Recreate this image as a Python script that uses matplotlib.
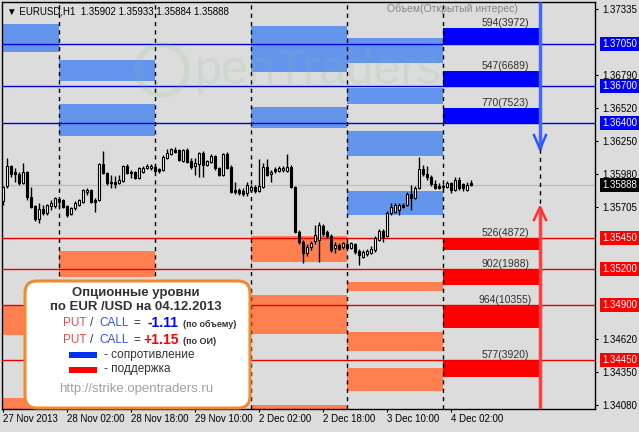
import numpy as np
import matplotlib
matplotlib.use("Agg")
import matplotlib.pyplot as plt
from matplotlib.patches import FancyBboxPatch, Rectangle, Circle

plt.rcParams['font.family'] = ['Liberation Sans', 'DejaVu Sans']

# EURUSD H1, bars from 27 Nov 2013 10:00 to 4 Dec 2013 07:00
opens = [
    1.35757, 1.35880, 1.36045, 1.35995, 1.35979, 1.35905, 1.35995, 1.35790, 1.35716, 1.35609,
    1.35691, 1.35658, 1.35716, 1.35716, 1.35773, 1.35765, 1.35716, 1.35650, 1.35699, 1.35724,
    1.35749, 1.35831, 1.35847, 1.35765, 1.35765, 1.36061, 1.35987, 1.35913, 1.35913, 1.35905,
    1.35921, 1.36045, 1.35995, 1.35995, 1.35946, 1.35995, 1.36028, 1.36028, 1.36036, 1.36020,
    1.36012, 1.36110, 1.36143, 1.36176, 1.36176, 1.36086, 1.36176, 1.36086, 1.36045, 1.36061,
    1.36151, 1.36053, 1.36077, 1.36127, 1.36028, 1.35971, 1.36143, 1.36036, 1.35847, 1.35847,
    1.35839, 1.35823, 1.35847, 1.35872, 1.35839, 1.35872, 1.36036, 1.35979, 1.36020, 1.36003,
    1.36012, 1.36003, 1.36036, 1.35872, 1.35502, 1.35420, 1.35329, 1.35379, 1.35428, 1.35436,
    1.35551, 1.35502, 1.35469, 1.35370, 1.35395, 1.35379, 1.35403, 1.35370, 1.35403, 1.35346,
    1.35296, 1.35321, 1.35329, 1.35354, 1.35436, 1.35510, 1.35469, 1.35658, 1.35666, 1.35683,
    1.35724, 1.35724, 1.35814, 1.35781, 1.35864, 1.36020, 1.35979, 1.35954, 1.35897, 1.35880,
    1.35872, 1.35872, 1.35905, 1.35847, 1.35929, 1.35897, 1.35847, 1.35902]
highs = [
    1.35880, 1.36110, 1.36053, 1.36028, 1.35995, 1.36069, 1.36003, 1.35872, 1.35724, 1.35740,
    1.35724, 1.35732, 1.35765, 1.35790, 1.35781, 1.35773, 1.35724, 1.35707, 1.35757, 1.35773,
    1.35855, 1.35864, 1.35855, 1.35781, 1.36069, 1.36168, 1.35995, 1.35971, 1.35962, 1.35971,
    1.36053, 1.36061, 1.36012, 1.36003, 1.36036, 1.36045, 1.36061, 1.36061, 1.36053, 1.36028,
    1.36135, 1.36184, 1.36193, 1.36201, 1.36184, 1.36184, 1.36193, 1.36110, 1.36110, 1.36160,
    1.36168, 1.36094, 1.36143, 1.36135, 1.36036, 1.36151, 1.36160, 1.36053, 1.35913, 1.35864,
    1.35864, 1.35913, 1.35888, 1.35888, 1.36102, 1.36069, 1.36102, 1.36012, 1.36036, 1.36045,
    1.36045, 1.36143, 1.36053, 1.35880, 1.35518, 1.35436, 1.35403, 1.35428, 1.35559, 1.35584,
    1.35568, 1.35518, 1.35486, 1.35420, 1.35412, 1.35420, 1.35420, 1.35420, 1.35412, 1.35362,
    1.35354, 1.35362, 1.35387, 1.35469, 1.35527, 1.35527, 1.35675, 1.35740, 1.35740, 1.35740,
    1.35740, 1.35831, 1.35888, 1.35880, 1.36119, 1.36053, 1.36045, 1.35971, 1.35929, 1.35905,
    1.35897, 1.35921, 1.35913, 1.35954, 1.35954, 1.35905, 1.35913, 1.35933]
lows = [
    1.35724, 1.35864, 1.35954, 1.35913, 1.35888, 1.35897, 1.35765, 1.35699, 1.35592, 1.35576,
    1.35642, 1.35642, 1.35683, 1.35699, 1.35699, 1.35699, 1.35625, 1.35642, 1.35683, 1.35716,
    1.35740, 1.35806, 1.35740, 1.35666, 1.35757, 1.35979, 1.35888, 1.35864, 1.35864, 1.35897,
    1.35913, 1.35979, 1.35946, 1.35938, 1.35938, 1.35987, 1.36020, 1.36012, 1.35995, 1.35987,
    1.36003, 1.36102, 1.36135, 1.36151, 1.36086, 1.36077, 1.36069, 1.36020, 1.35971, 1.35954,
    1.35954, 1.36045, 1.36069, 1.36012, 1.35962, 1.35962, 1.36020, 1.35823, 1.35814, 1.35806,
    1.35798, 1.35798, 1.35831, 1.35823, 1.35831, 1.35864, 1.35962, 1.35913, 1.35987, 1.35995,
    1.35995, 1.35995, 1.35864, 1.35494, 1.35403, 1.35247, 1.35305, 1.35354, 1.35403, 1.35255,
    1.35469, 1.35453, 1.35338, 1.35329, 1.35354, 1.35362, 1.35362, 1.35362, 1.35321, 1.35231,
    1.35288, 1.35305, 1.35321, 1.35338, 1.35428, 1.35420, 1.35461, 1.35642, 1.35658, 1.35642,
    1.35699, 1.35716, 1.35683, 1.35773, 1.35855, 1.35962, 1.35929, 1.35880, 1.35855, 1.35855,
    1.35855, 1.35864, 1.35823, 1.35839, 1.35847, 1.35839, 1.35839, 1.35884]
closes = [
    1.35872, 1.36045, 1.35979, 1.35979, 1.35905, 1.35995, 1.35790, 1.35707, 1.35609, 1.35691,
    1.35658, 1.35724, 1.35740, 1.35781, 1.35749, 1.35707, 1.35642, 1.35699, 1.35740, 1.35765,
    1.35847, 1.35847, 1.35749, 1.35749, 1.36061, 1.35987, 1.35905, 1.35905, 1.35897, 1.35929,
    1.36045, 1.35987, 1.35987, 1.35946, 1.36028, 1.36028, 1.36045, 1.36045, 1.36003, 1.36003,
    1.36119, 1.36151, 1.36184, 1.36160, 1.36094, 1.36176, 1.36077, 1.36036, 1.36069, 1.36151,
    1.36053, 1.36086, 1.36127, 1.36028, 1.35971, 1.36143, 1.36028, 1.35831, 1.35831, 1.35823,
    1.35814, 1.35888, 1.35872, 1.35839, 1.35880, 1.36036, 1.35971, 1.35995, 1.36003, 1.36028,
    1.36028, 1.36036, 1.35872, 1.35502, 1.35420, 1.35329, 1.35379, 1.35412, 1.35477, 1.35559,
    1.35486, 1.35469, 1.35354, 1.35395, 1.35362, 1.35412, 1.35370, 1.35412, 1.35338, 1.35313,
    1.35338, 1.35346, 1.35362, 1.35453, 1.35510, 1.35461, 1.35658, 1.35707, 1.35724, 1.35724,
    1.35707, 1.35814, 1.35781, 1.35864, 1.36020, 1.35979, 1.35954, 1.35897, 1.35864, 1.35864,
    1.35880, 1.35905, 1.35847, 1.35929, 1.35864, 1.35864, 1.35888, 1.35888]

tick_bars = [0, 16, 32, 48, 64, 80, 96, 112]
tick_labels = ['27 Nov 2013', '28 Nov 02:00', '28 Nov 18:00', '29 Nov 10:00',
               '2 Dec 02:00', '2 Dec 18:00', '3 Dec 10:00', '4 Dec 02:00']
day_edges = [-1, 14, 38, 62, 86, 110]      # bar index of each 00:00
today_end = 134.25

price_ticks = [1.37335, 1.36790, 1.36520, 1.36250, 1.35980, 1.35705,
               1.34620, 1.34350, 1.34080]
last_price = 1.35888

# option levels of previous days: (day, low, high)
res_zones = [(0, 1.36982, 1.37212), (1, 1.37376, 1.37500), (1, 1.36743, 1.36916),
             (1, 1.36291, 1.36554), (3, 1.36817, 1.37195), (3, 1.36357, 1.36529),
             (4, 1.36891, 1.37097), (4, 1.36554, 1.36686), (4, 1.36127, 1.36331),
             (4, 1.35642, 1.35839)]
sup_zones = [(0, 1.34655, 1.34894), (0, 1.34000, 1.34137), (1, 1.35132, 1.35346),
             (3, 1.35255, 1.35469), (3, 1.34663, 1.34984), (3, 1.34000, 1.34080),
             (4, 1.35017, 1.35091), (4, 1.34524, 1.34680), (4, 1.34195, 1.34384)]

# today's levels
res_levels = [1.3705, 1.3670, 1.3640]
res_tops = [1.37179, 1.36825, 1.36521]
res_text = ['594(3972)', '547(6689)', '770(7523)']
sup_levels = [1.3545, 1.3520, 1.3490, 1.3445]
sup_bottoms = [1.35354, 1.35066, 1.34713, 1.34310]
sup_text = ['526(4872)', '902(1988)', '964(10355)', '577(3920)']

pc_volume = '-1.11'
pc_oi = '+1.15'

BG = '#DCDCDC'
W, H = 639, 432


def fpos(x, y):
    return x / W, 1 - y / H


fig = plt.figure(figsize=(W / 100, H / 100), dpi=100)
fig.patch.set_facecolor(BG)
ax = fig.add_axes([2 / W, (H - 409) / H, 593 / W, 407 / H])
ax.set_facecolor(BG)
ax.set_xlim(-0.25, 148)
ax.set_ylim(1.34047, 1.37393)

# zones
for day, lo, hi in res_zones:
    ax.fill_between([day_edges[day], day_edges[day + 1]], lo, hi,
                    color='#6495ED', lw=0, zorder=1)
for day, lo, hi in sup_zones:
    ax.fill_between([day_edges[day], day_edges[day + 1]], lo, hi,
                    color='#FF7F50', lw=0, zorder=1)

# today's bars
for lev, top in zip(res_levels, res_tops):
    ax.fill_between([day_edges[-1], today_end], lev, top, color='#0000FF', lw=0, zorder=2)
for lev, bot in zip(sup_levels, sup_bottoms):
    ax.fill_between([day_edges[-1], today_end], bot, lev, color='#FF0000', lw=0, zorder=2)

for lev in res_levels:
    ax.axhline(lev, color='#0000DD', lw=1, zorder=3)
for lev in sup_levels:
    ax.axhline(lev, color='#E80000', lw=1, zorder=3)
ax.axhline(last_price, color='#C0C0C0', lw=1, zorder=2)

for d in day_edges[1:]:
    ax.axvline(d, color='black', ls=(0, (3, 3)), lw=1, zorder=4)

# candles
o = np.array(opens)
c = np.array(closes)
idx = np.arange(len(o))
up = c >= o
body_lo = np.minimum(o, c)
body_h = np.maximum(np.abs(c - o), 0.00003)
ax.vlines(idx, lows, highs, color='black', lw=1, zorder=5)
ax.bar(idx, body_h, bottom=body_lo, width=0.55,
       color=np.where(up, 'white', 'black'), edgecolor='black', lw=0.8, zorder=6)

for top, t in zip(res_tops, res_text):
    ax.text(125.5, top + 0.00002, t, ha='center', va='bottom', fontsize=7.5,
            color='#303030', zorder=7)
for lev, t in zip(sup_levels, sup_text):
    ax.text(125.5, lev + 0.00002, t, ha='center', va='bottom', fontsize=7.5,
            color='#303030', zorder=7)

# arrows
ax.plot([today_end, today_end], [1.37393, 1.36184], color='#4466FF', lw=2.5,
        solid_capstyle='butt', zorder=8)
ax.plot([today_end - 1.5, today_end, today_end + 1.5], [1.36299, 1.36184, 1.36299],
        color='#3355FF', lw=1.8, zorder=8)
ax.plot([today_end, today_end], [1.36184, 1.35707], color='black', lw=1,
        ls=(0, (3, 3)), zorder=8)
ax.plot([today_end, today_end], [1.35707, 1.34047], color='#FF4040', lw=2.5,
        solid_capstyle='butt', zorder=8)
ax.plot([today_end - 1.5, today_end, today_end + 1.5], [1.35601, 1.35707, 1.35601],
        color='#FF3030', lw=1.8, zorder=8)

# axes
for s in ax.spines.values():
    s.set_color('black')
    s.set_linewidth(1)
ax.yaxis.tick_right()
ax.set_yticks(price_ticks)
ax.set_yticklabels(['%.5f' % t for t in price_ticks])
ax.tick_params(axis='y', direction='out', length=2.2, pad=2.9, labelsize=7, colors='black')
ax.set_xticks(tick_bars)
ax.set_xticklabels(tick_labels, ha='left')
ax.tick_params(axis='x', direction='out', length=2.2, pad=1.2, labelsize=7, colors='black')

ytr = ax.get_yaxis_transform()
boxes = [(lev, '#0000FF') for lev in res_levels] + \
        [(lev, '#FF0000') for lev in sup_levels] + [(last_price, 'black')]
for lev, fc in boxes:
    ax.text(1.0118, lev, '%.5f' % lev, transform=ytr, ha='left', va='center', fontsize=7,
            color='white', bbox=dict(boxstyle='square,pad=0.2', fc=fc, ec='none'),
            clip_on=False, zorder=20)

# header texts
fig.text(*fpos(7, 11), '\u25bc EURUSD,H1  %.5f %.5f %.5f %.5f'
         % (opens[-1], highs[-1], lows[-1], closes[-1]),
         fontsize=7, va='center', ha='left', color='black')
fig.text(*fpos(452, 9), 'Объем(Открытый интерес)', fontsize=7.5, va='center',
         ha='center', color='#858585')

# watermark
fig.text(*fpos(195, 72), 'penTraders', fontsize=35, va='center', ha='left',
         color='#80C080', alpha=0.15, zorder=9)
fig.add_artist(Circle((1.62, (H - 70) / 100), 0.25, transform=fig.dpi_scale_trans,
                      fill=False, ec='#80C080', lw=4, alpha=0.15, zorder=9))

# info box
box = FancyBboxPatch((25 / 100, (H - 408) / 100), 225 / 100, 127 / 100,
                     boxstyle='round,pad=0,rounding_size=0.12', fc='white',
                     ec='#F08A30', lw=2.2, transform=fig.dpi_scale_trans, zorder=10)
fig.add_artist(box)
dark = '#333333'
fig.text(*fpos(136, 293), 'Опционные уровни', fontsize=9.5, fontweight='bold',
         ha='center', va='center', color=dark, zorder=11)
fig.text(*fpos(136, 307), 'по EUR /USD на 04.12.2013', fontsize=9.5, fontweight='bold',
         ha='center', va='center', color=dark, zorder=11)
for y, val, col, note, vx in [(323, pc_volume, '#0000FF', '(по объему)', 147),
                              (340, pc_oi, '#FF0000', '(по ОИ)', 143)]:
    fig.text(*fpos(63, y), 'PUT', fontsize=8.5, color='#E84848', va='center', zorder=11)
    fig.text(*fpos(90, y), '/', fontsize=8.5, color=dark, va='center', zorder=11)
    fig.text(*fpos(99, y), 'CALL', fontsize=8.5, color='#3355DD', va='center', zorder=11)
    fig.text(*fpos(133, y), '=', fontsize=8.5, color=dark, va='center', zorder=11)
    fig.text(*fpos(vx, y), val, fontsize=10, fontweight='bold', color=col,
             va='center', zorder=11)
    fig.text(*fpos(183, y + 1), note, fontsize=6.5, fontweight='bold', color=dark,
             va='center', zorder=11)
fig.add_artist(Rectangle((0.69, (H - 358) / 100), 0.28, 0.06, transform=fig.dpi_scale_trans,
                         fc='#0030F0', ec='none', zorder=11))
fig.add_artist(Rectangle((0.69, (H - 373) / 100), 0.28, 0.06, transform=fig.dpi_scale_trans,
                         fc='#FF0000', ec='none', zorder=11))
fig.text(*fpos(104, 355), '- сопротивление', fontsize=8.5, color=dark, va='center', zorder=11)
fig.text(*fpos(104, 369), '- поддержка', fontsize=8.5, color=dark, va='center', zorder=11)
fig.text(*fpos(136, 389), 'http://strike.opentraders.ru', fontsize=9.5, color='#A0A0A0',
         ha='center', va='center', zorder=11)

fig.savefig('out.png', dpi=100, facecolor=BG)
